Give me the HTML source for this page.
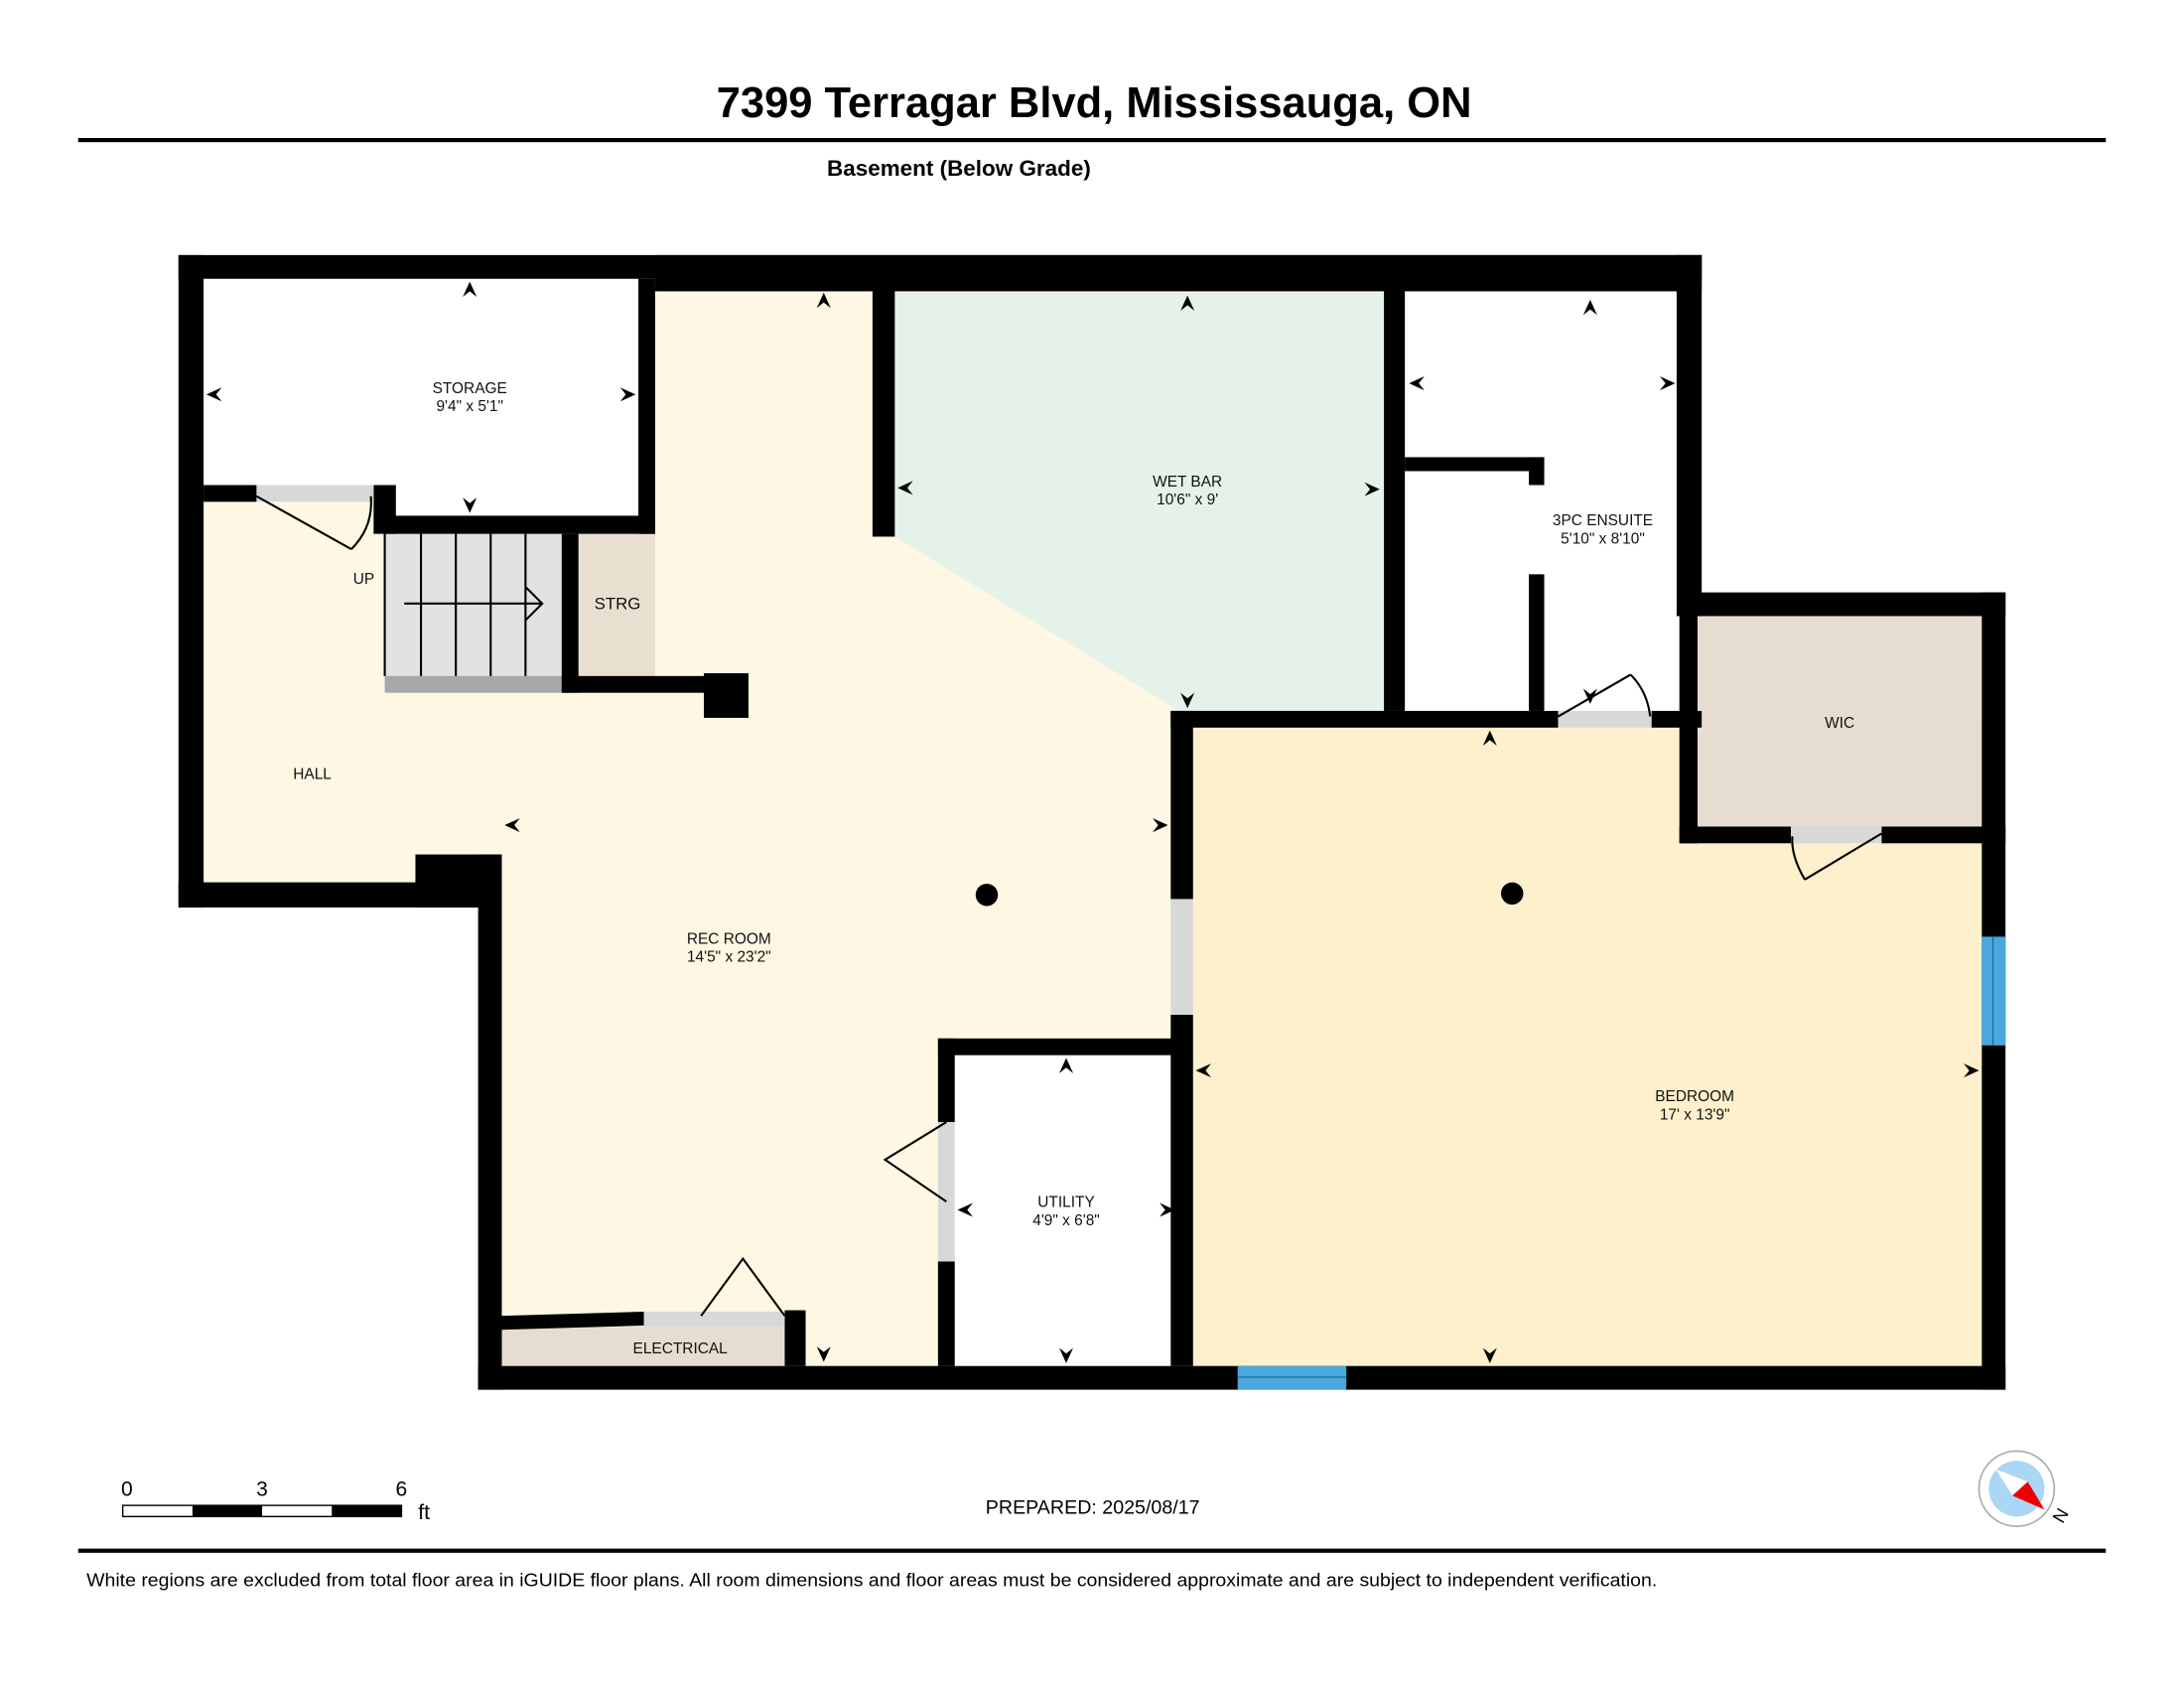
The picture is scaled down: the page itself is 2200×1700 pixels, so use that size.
<!DOCTYPE html>
<html><head><meta charset="utf-8"><style>
html,body{margin:0;padding:0;background:#fff}
svg{display:block}
text{font-family:"Liberation Sans",Arial,sans-serif}
</style></head><body>
<svg width="2200" height="1700" viewBox="0 0 1567 1211" xmlns="http://www.w3.org/2000/svg">
<defs>
<path id="ah" d="M0,0 L-11,-5 L-7,0 L-11,5 Z" fill="#000"/>
</defs>
<rect width="1567" height="1211" fill="#fff"/>
<text x="785" y="84" font-size="31" font-weight="bold" text-anchor="middle">7399 Terragar Blvd, Mississauga, ON</text>
<rect x="56" y="99" width="1455" height="3" fill="#000"/>
<text x="688" y="126" font-size="16" font-weight="bold" text-anchor="middle">Basement (Below Grade)</text>

<rect x="146" y="200" width="1060" height="790" fill="#fdf7e3"/>
<rect x="146" y="200" width="312" height="170" fill="#fff"/>
<polygon points="642,210 993,210 993,510 846,510 642,385" fill="#e5f2ea"/>
<rect x="1008" y="200" width="200" height="310" fill="#fff"/>
<rect x="1206" y="440" width="240" height="560" fill="#fff"/>
<rect x="856" y="522" width="566" height="458" fill="#fef0cc"/>
<rect x="1218" y="442" width="204" height="151" fill="#e6ddd0"/>
<rect x="684" y="757" width="161" height="223" fill="#fff"/>
<rect x="360" y="952" width="205" height="28" fill="#e6ddd0"/>
<rect x="415" y="383" width="55" height="102" fill="#e9dfd0"/>
<rect x="128" y="651" width="215" height="360" fill="#fff"/>
<rect x="1439" y="420" width="130" height="600" fill="#fff"/>
<rect x="1221" y="180" width="240" height="245" fill="#fff"/>
<rect x="146" y="360" width="130" height="10" fill="#fdf7e3"/>
<rect x="276" y="383" width="127" height="102" fill="#e2e2e2"/>
<g stroke="#000" stroke-width="1.5">
<line x1="302" y1="383" x2="302" y2="485"/><line x1="327" y1="383" x2="327" y2="485"/>
<line x1="352" y1="383" x2="352" y2="485"/><line x1="377" y1="383" x2="377" y2="485"/>
<line x1="276" y1="383" x2="276" y2="485"/>
<line x1="290" y1="433" x2="388" y2="433"/>
<polyline points="377,421 389,433 377,445" fill="none"/>
</g>
<rect x="276" y="485" width="127" height="12" fill="#a8a8a8"/>

<g fill="#000">
<rect x="128" y="183" width="1093" height="17"/>
<rect x="470" y="183" width="751" height="26"/>
<rect x="128" y="183" width="18" height="468"/>
<rect x="128" y="633" width="232" height="18"/>
<rect x="298" y="613" width="62" height="38"/>
<rect x="343" y="613" width="17" height="384"/>
<rect x="343" y="980" width="1096" height="17"/>
<rect x="1422" y="425" width="17" height="572"/>
<rect x="1205" y="425" width="234" height="17"/>
<rect x="1203" y="183" width="18" height="259"/>
<rect x="458" y="200" width="12" height="183"/>
<rect x="146" y="348" width="38" height="12"/>
<rect x="268" y="348" width="16" height="35"/>
<rect x="276" y="370" width="194" height="13"/>
<rect x="626" y="200" width="16" height="185"/>
<rect x="993" y="200" width="15" height="310"/>
<rect x="1008" y="328" width="100" height="10"/>
<rect x="1097" y="328" width="11" height="20"/>
<rect x="1097" y="412" width="11" height="98"/>
<rect x="840" y="510" width="278" height="12"/>
<rect x="1185" y="510" width="36" height="12"/>
<rect x="840" y="510" width="16" height="135"/>
<rect x="840" y="728" width="16" height="252"/>
<rect x="1205" y="425" width="13" height="180"/>
<rect x="1205" y="593" width="80" height="12"/>
<rect x="1350" y="593" width="89" height="12"/>
<rect x="673" y="745" width="172" height="12"/>
<rect x="673" y="745" width="12" height="60"/>
<rect x="673" y="905" width="12" height="75"/>
<polygon points="360,944 462,941 462,951 360,954"/>
<rect x="563" y="940" width="15" height="40"/>
<rect x="403" y="383" width="12" height="114"/>
<rect x="403" y="485" width="110" height="12"/>
<rect x="505" y="483" width="32" height="32"/>
</g>
<g fill="#d8d8d8">
<rect x="184" y="348" width="84" height="12"/>
<rect x="1118" y="510" width="67" height="12"/>
<rect x="1285" y="593" width="65" height="12"/>
<rect x="840" y="645" width="16" height="83"/>
<rect x="673" y="805" width="12" height="100"/>
<rect x="462" y="941" width="101" height="11"/>
</g>
<rect x="1422" y="672" width="17" height="78" fill="#4aa8dc"/>
<rect x="888" y="980" width="78" height="17" fill="#4aa8dc"/>
<g stroke="#1c6fa0" stroke-width="1"><line x1="1430" y1="672" x2="1430" y2="750"/><line x1="888" y1="988" x2="966" y2="988"/></g>
<g stroke="#000" stroke-width="1.5" fill="none">
<line x1="184" y1="356" x2="252" y2="394"/>
<path d="M252,394 Q268,378 266,356"/>
<line x1="1118" y1="514" x2="1170" y2="484"/>
<path d="M1170,484 Q1182,496 1184,514"/>
<line x1="1350" y1="598" x2="1295" y2="631"/>
<path d="M1295,631 Q1285,614 1286,600"/>
<polyline points="679,805 635,832 679,862"/>
<polyline points="503,944 533,903 563,944"/>
</g>
<circle cx="708" cy="642" r="8" fill="#000"/>
<circle cx="1085" cy="641" r="8" fill="#000"/>
<use href="#ah" transform="translate(337,202) rotate(-90)"/>
<use href="#ah" transform="translate(337,368) rotate(90)"/>
<use href="#ah" transform="translate(148,283) rotate(180)"/>
<use href="#ah" transform="translate(456,283)"/>
<use href="#ah" transform="translate(591,210) rotate(-90)"/>
<use href="#ah" transform="translate(591,977) rotate(90)"/>
<use href="#ah" transform="translate(362,592) rotate(180)"/>
<use href="#ah" transform="translate(838,592)"/>
<use href="#ah" transform="translate(852,212) rotate(-90)"/>
<use href="#ah" transform="translate(852,508) rotate(90)"/>
<use href="#ah" transform="translate(644,350) rotate(180)"/>
<use href="#ah" transform="translate(990,351)"/>
<use href="#ah" transform="translate(1141,215) rotate(-90)"/>
<use href="#ah" transform="translate(1141,505) rotate(90)"/>
<use href="#ah" transform="translate(1011,275) rotate(180)"/>
<use href="#ah" transform="translate(1202,275)"/>
<use href="#ah" transform="translate(1069,524) rotate(-90)"/>
<use href="#ah" transform="translate(1069,978) rotate(90)"/>
<use href="#ah" transform="translate(858,768) rotate(180)"/>
<use href="#ah" transform="translate(1420,768)"/>
<use href="#ah" transform="translate(765,759) rotate(-90)"/>
<use href="#ah" transform="translate(765,978) rotate(90)"/>
<use href="#ah" transform="translate(687,868) rotate(180)"/>
<use href="#ah" transform="translate(843,868)"/>
<g font-size="11" text-anchor="middle" fill="#111">
<text x="337" y="282">STORAGE</text><text x="337" y="295">9'4" x 5'1"</text>
<text x="852" y="349">WET BAR</text><text x="852" y="362">10'6" x 9'</text>
<text x="1150" y="377">3PC ENSUITE</text><text x="1150" y="390">5'10" x 8'10"</text>
<text x="523" y="677">REC ROOM</text><text x="523" y="690">14'5" x 23'2"</text>
<text x="1216" y="790">BEDROOM</text><text x="1216" y="803">17' x 13'9"</text>
<text x="765" y="866">UTILITY</text><text x="765" y="879">4'9" x 6'8"</text>
<text x="1320" y="522">WIC</text>
<text x="224" y="559">HALL</text>
<text x="261" y="419">UP</text>
<text x="443" y="437" font-size="12">STRG</text>
<text x="488" y="971">ELECTRICAL</text>
</g>
<g font-size="15">
<text x="91" y="1073" text-anchor="middle">0</text>
<text x="188" y="1073" text-anchor="middle">3</text>
<text x="288" y="1073" text-anchor="middle">6</text>
<text x="300" y="1090">ft</text>
</g>
<rect x="88" y="1080" width="200" height="8" fill="#fff" stroke="#000" stroke-width="1"/>
<rect x="138" y="1080" width="50" height="8" fill="#000"/>
<rect x="238" y="1080" width="50" height="8" fill="#000"/>
<text x="784" y="1086" font-size="14" text-anchor="middle">PREPARED: 2025/08/17</text>
<circle cx="1447" cy="1068" r="27" fill="#fff" stroke="#aaa" stroke-width="1.2"/>
<circle cx="1447" cy="1068" r="20" fill="#a9d7f5"/>
<polygon points="1432,1054 1455,1063 1444,1073" fill="#fff"/>
<polygon points="1455,1063 1467,1083 1444,1073" fill="#e00"/>
<text x="1478" y="1092" font-size="13" transform="rotate(-60 1478 1087)" text-anchor="middle">N</text>
<rect x="56" y="1111" width="1455" height="3" fill="#000"/>
<text x="62" y="1138" font-size="13" textLength="1127" lengthAdjust="spacingAndGlyphs">White regions are excluded from total floor area in iGUIDE floor plans. All room dimensions and floor areas must be considered approximate and are subject to independent verification.</text>
</svg>
</body></html>
